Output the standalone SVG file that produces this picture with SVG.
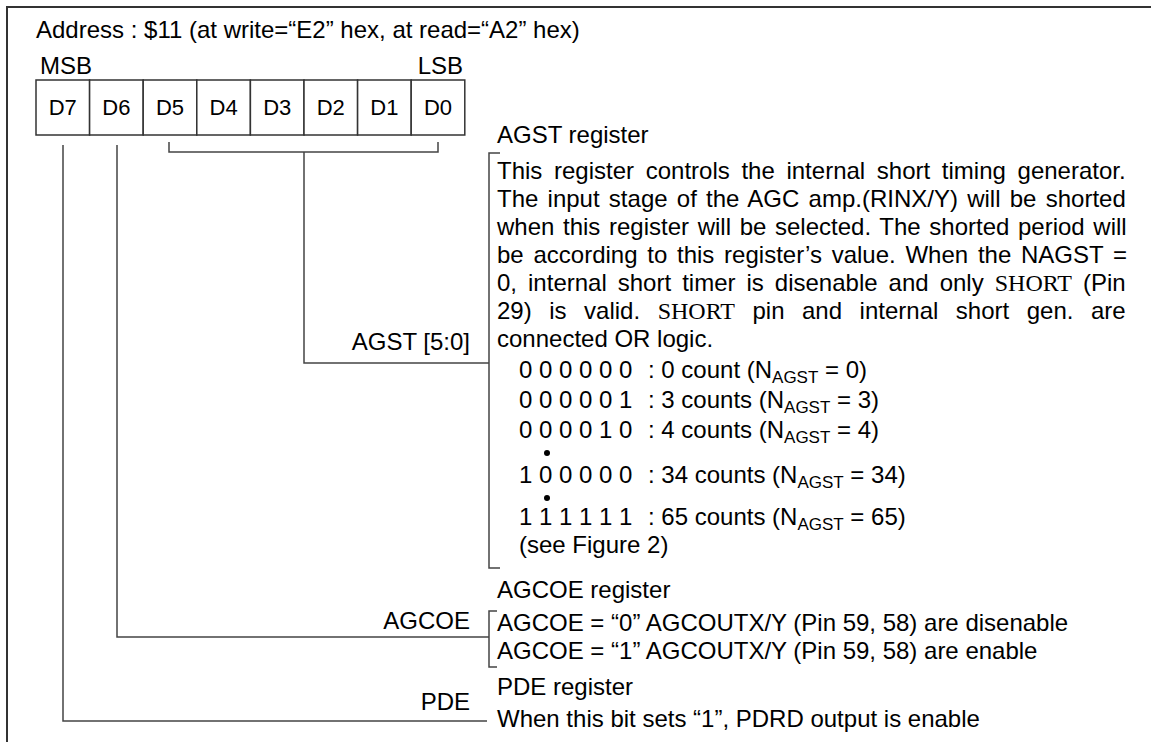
<svg xmlns="http://www.w3.org/2000/svg" width="1151" height="742" viewBox="0 0 1151 742">
  <style>
    text { font-family: "Liberation Sans", Arial, sans-serif; font-size: 24px; fill: #000; }
    .serif { font-family: "Liberation Serif", "Times New Roman", serif; }
    .end { text-anchor: end; }
    .mid { text-anchor: middle; }
    .bit { font-size: 22px; text-anchor: middle; }
    .sub { font-size: 17px; }
    .frame { fill: none; stroke: #333; stroke-width: 2; }
    .cell { fill: #fff; stroke: #333; stroke-width: 1.5; }
    .wire { fill: none; stroke: #444; stroke-width: 1.5; }
    .brk { fill: none; stroke: #444; stroke-width: 1.5; }
  </style>

  <rect width="1151" height="742" fill="#fff"/>
  <!-- outer frame, open at right and bottom -->
  <path class="frame" d="M7,742 V7 H1151"/>

  <!-- title -->
  <g id="title">
    <text x="36" y="38">Address : $11 (at write=“E2” hex, at read=“A2” hex)</text>
    <text x="40" y="74">MSB</text>
    <text class="end" x="463" y="74">LSB</text>
  </g>

  <!-- register bit field -->
  <g id="bitfield">
    <rect class="cell" x="36" y="80" width="53.6" height="55"/>
    <rect class="cell" x="89.6" y="80" width="53.6" height="55"/>
    <rect class="cell" x="143.2" y="80" width="53.6" height="55"/>
    <rect class="cell" x="196.8" y="80" width="53.6" height="55"/>
    <rect class="cell" x="250.4" y="80" width="53.6" height="55"/>
    <rect class="cell" x="304" y="80" width="53.6" height="55"/>
    <rect class="cell" x="357.6" y="80" width="53.6" height="55"/>
    <rect class="cell" x="411.2" y="80" width="53.6" height="55"/>
    <text class="bit" x="62.8" y="115">D7</text>
    <text class="bit" x="116.4" y="115">D6</text>
    <text class="bit" x="170" y="115">D5</text>
    <text class="bit" x="223.6" y="115">D4</text>
    <text class="bit" x="277.2" y="115">D3</text>
    <text class="bit" x="330.8" y="115">D2</text>
    <text class="bit" x="384.4" y="115">D1</text>
    <text class="bit" x="438" y="115">D0</text>
  </g>

  <!-- connectors from bits to descriptions -->
  <g id="connectors">
    <path class="wire" d="M169,142 V152 H438 V142"/>
    <path class="wire" d="M304,152 V363 H489"/>
    <path class="wire" d="M117,145 V637 H489"/>
    <path class="wire" d="M63,145 V721 H487"/>
  </g>

  <!-- field labels -->
  <g id="label-agst">
    <text class="end" x="470" y="350">AGST [5:0]</text>
  </g>
  <g id="label-agcoe">
    <text class="end" x="470" y="629">AGCOE</text>
  </g>
  <g id="label-pde">
    <text class="end" x="470" y="710">PDE</text>
  </g>

  <!-- AGST description -->
  <g id="agst">
    <text x="497" y="143">AGST register</text>
    <path class="brk" d="M500,153 H489 V568 H500"/>
    <text x="497" y="179" word-spacing="5.0">This register controls the internal short timing generator.</text>
    <text x="497" y="207" word-spacing="2.57">The input stage of the AGC amp.(RINX/Y) will be shorted</text>
    <text x="497" y="235" word-spacing="1.98">when this register will be selected. The shorted period will</text>
    <text x="497" y="263" word-spacing="3.08">be according to this register’s value. When the NAGST =</text>
    <text x="497" y="291" word-spacing="4.35">0, internal short timer is disenable and only <tspan class="serif">SHORT</tspan> (Pin</text>
    <text x="497" y="319" word-spacing="10.87">29) is valid. <tspan class="serif">SHORT</tspan> pin and internal short gen. are</text>
    <text x="497" y="347">connected OR logic.</text>

    <text x="519" y="378">0 0 0 0 0 0<tspan x="648">: 0 count (N</tspan><tspan class="sub" dy="5">AGST</tspan><tspan dy="-5"> = 0)</tspan></text>
    <text x="519" y="408">0 0 0 0 0 1<tspan x="648">: 3 counts (N</tspan><tspan class="sub" dy="5">AGST</tspan><tspan dy="-5"> = 3)</tspan></text>
    <text x="519" y="438">0 0 0 0 1 0<tspan x="648">: 4 counts (N</tspan><tspan class="sub" dy="5">AGST</tspan><tspan dy="-5"> = 4)</tspan></text>
    <circle cx="547" cy="453" r="3"/>
    <text x="519" y="483">1 0 0 0 0 0<tspan x="648">: 34 counts (N</tspan><tspan class="sub" dy="5">AGST</tspan><tspan dy="-5"> = 34)</tspan></text>
    <circle cx="547" cy="498" r="3"/>
    <text x="519" y="525">1 1 1 1 1 1<tspan x="648">: 65 counts (N</tspan><tspan class="sub" dy="5">AGST</tspan><tspan dy="-5"> = 65)</tspan></text>
    <text x="519" y="553">(see Figure 2)</text>
  </g>

  <!-- AGCOE description -->
  <g id="agcoe">
    <text x="497" y="598">AGCOE register</text>
    <path class="brk" d="M497,611 H489 V667 H497"/>
    <text x="497" y="631">AGCOE = “0” AGCOUTX/Y (Pin 59, 58) are disenable</text>
    <text x="497" y="659">AGCOE = “1” AGCOUTX/Y (Pin 59, 58) are enable</text>
  </g>

  <!-- PDE description -->
  <g id="pde">
    <text x="497" y="695">PDE register</text>
    <text x="497" y="727">When this bit sets “1”, PDRD output is enable</text>
  </g>
</svg>
